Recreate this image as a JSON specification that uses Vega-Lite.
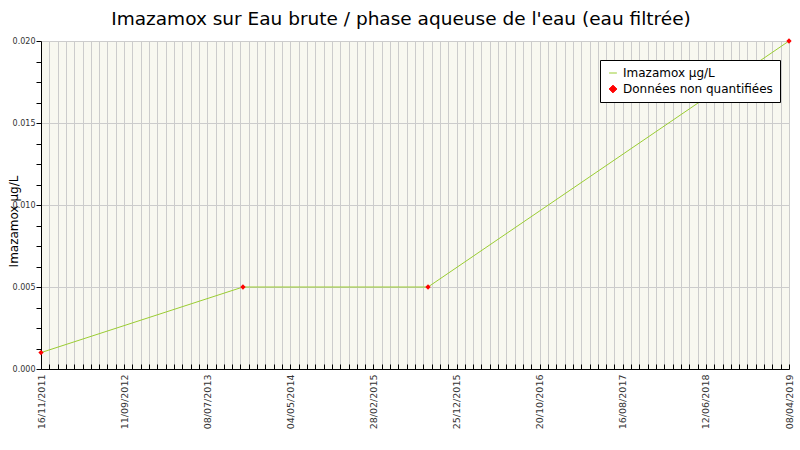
{
  "$schema": "https://vega.github.io/schema/vega-lite/v6.json",
  "width": 748,
  "height": 328,
  "autosize": {"type": "none"},
  "padding": {"left": 41, "top": 41, "right": 11, "bottom": 81},
  "background": "white",
  "title": {
    "text": "Imazamox sur Eau brute / phase aqueuse de l'eau (eau filtrée)",
    "font": "DejaVu Sans",
    "fontSize": 18.5,
    "fontWeight": "normal",
    "color": "black",
    "offset": 9,
    "dx": -14
  },
  "config": {
    "view": {"fill": "#F8F8F0", "stroke": null},
    "font": "DejaVu Sans"
  },
  "data": {
    "values": [
      {"date": "2011-11-16", "value": 0.001},
      {"date": "2013-11-14", "value": 0.005},
      {"date": "2015-09-13", "value": 0.005},
      {"date": "2019-04-08", "value": 0.02}
    ]
  },
  "encoding": {
    "x": {
      "field": "date",
      "type": "temporal",
      "scale": {"domain": [1321401600000, 1554681600000]},
      "axis": {
        "title": null,
        "values": [1321401600000,1323993600000,1326585600000,1329177600000,1331769600000,1334361600000,1336953600000,1339545600000,1342137600000,1344729600000,1347321600000,1349913600000,1352505600000,1355097600000,1357689600000,1360281600000,1362873600000,1365465600000,1368057600000,1370649600000,1373241600000,1375833600000,1378425600000,1381017600000,1383609600000,1386201600000,1388793600000,1391385600000,1393977600000,1396569600000,1399161600000,1401753600000,1404345600000,1406937600000,1409529600000,1412121600000,1414713600000,1417305600000,1419897600000,1422489600000,1425081600000,1427673600000,1430265600000,1432857600000,1435449600000,1438041600000,1440633600000,1443225600000,1445817600000,1448409600000,1451001600000,1453593600000,1456185600000,1458777600000,1461369600000,1463961600000,1466553600000,1469145600000,1471737600000,1474329600000,1476921600000,1479513600000,1482105600000,1484697600000,1487289600000,1489881600000,1492473600000,1495065600000,1497657600000,1500249600000,1502841600000,1505433600000,1508025600000,1510617600000,1513209600000,1515801600000,1518393600000,1520985600000,1523577600000,1526169600000,1528761600000,1531353600000,1533945600000,1536537600000,1539129600000,1541721600000,1544313600000,1546905600000,1549497600000,1552089600000,1554681600000],
        "labelExpr": "(datum.value - 1321401600000) % 25920000000 === 0 ? utcFormat(datum.value, '%d/%m/%Y') : ''",
        "labelAngle": -90,
        "labelAlign": "right",
        "labelBaseline": "middle",
        "labelFontSize": 9.5,
        "labelColor": "#333333",
        "labelPadding": 10,
        "labelOverlap": false,
        "labelFlush": false,
        "labelBound": false,
        "grid": true,
        "gridColor": "#cccccc",
        "gridWidth": 1,
        "tickSize": -5,
        "tickColor": "black",
        "domainColor": "black",
        "domainWidth": 1
      }
    },
    "y": {
      "field": "value",
      "type": "quantitative",
      "scale": {"domain": [0, 0.02], "nice": false, "zero": true},
      "axis": {
        "title": "Imazamox µg/L",
        "titleFont": "DejaVu Sans",
        "titleFontSize": 12,
        "titleFontWeight": "normal",
        "titleColor": "black",
        "titleX": -28,
        "titleY": 180,
        "titleAngle": -90,
        "titleAlign": "center",
        "titleBaseline": "middle",
        "values": [0, 0.00125, 0.0025, 0.00375, 0.005, 0.00625, 0.0075, 0.00875, 0.01, 0.01125, 0.0125, 0.01375, 0.015, 0.01625, 0.0175, 0.01875, 0.02],
        "labelExpr": "abs(round(datum.value*200) - datum.value*200) < 0.000001 ? format(datum.value, '.3f') : ''",
        "labelFontSize": 8,
        "labelColor": "#333333",
        "labelPadding": 1,
        "labelOverlap": false,
        "labelFlush": false,
        "grid": true,
        "gridColor": "#cccccc",
        "gridOpacity": {"condition": {"test": "abs(round(datum.value*200) - datum.value*200) < 0.000001", "value": 1}, "value": 0},
        "tickSize": 5,
        "tickColor": "black",
        "domainColor": "black"
      }
    }
  },
  "layer": [
    {
      "mark": {"type": "line", "strokeWidth": 1},
      "encoding": {
        "color": {
          "datum": "Imazamox µg/L",
          "type": "nominal",
          "scale": {"domain": ["Imazamox µg/L", "Données non quantifiées"], "range": ["#9ACD32", "#FF0000"]},
          "legend": {
            "title": null,
            "orient": "none",
            "legendX": 559,
            "legendY": 19,
            "strokeColor": "black",
            "fillColor": "white",
            "padding": 7,
            "labelFont": "DejaVu Sans",
            "labelFontSize": 12,
            "labelColor": "black",
            "rowPadding": 4,
            "symbolSize": 60,
            "encode": {
              "symbols": {
                "update": {
                  "shape": {"signal": "datum.value === 'Imazamox µg/L' ? 'stroke' : 'diamond'"},
                  "stroke": {"signal": "datum.value === 'Imazamox µg/L' ? '#9ACD32' : 'red'"},
                  "fill": {"signal": "datum.value === 'Imazamox µg/L' ? 'transparent' : 'red'"},
                  "strokeWidth": {"value": 1}
                }
              }
            }
          }
        }
      }
    },
    {
      "mark": {"type": "point", "shape": "diamond", "filled": true, "size": 28, "opacity": 1},
      "encoding": {
        "color": {"datum": "Données non quantifiées", "type": "nominal"}
      }
    }
  ]
}
